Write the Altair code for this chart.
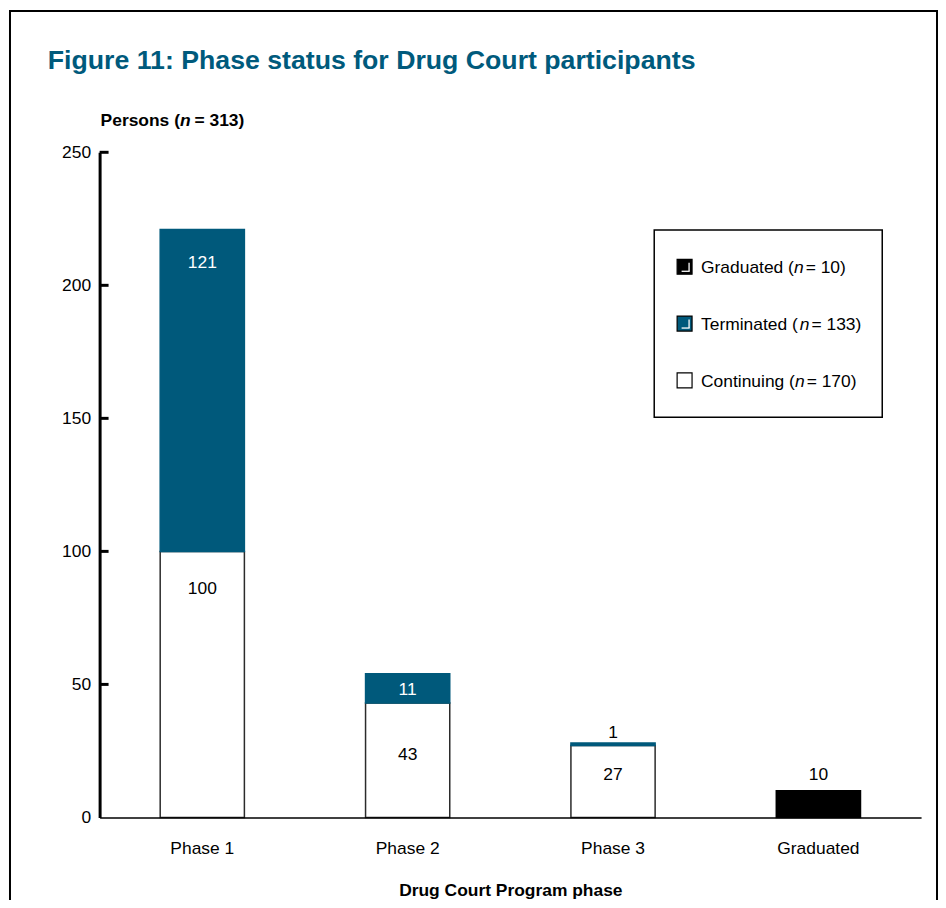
import altair as alt
import pandas as pd

# ---------------- data ----------------
PHASES = ["Phase 1", "Phase 2", "Phase 3", "Graduated"]
CONTINUING = [100, 43, 27, 0]
TERMINATED = [121, 11, 1, 0]
GRADUATED = [0, 0, 0, 10]
STATUSES = ["Continuing", "Terminated", "Graduated"]
LEGEND_ORDER = ["Graduated", "Terminated", "Continuing"]
Y_TICKS = [0, 50, 100, 150, 200, 250]
TOTAL = 313

TITLE = "Figure 11: Phase status for Drug Court participants"
X_TITLE = "Drug Court Program phase"

# ---------------- styles ----------------
TEAL = "#00597b"
FILLS = ["#ffffff", TEAL, "#000000"]
STROKES = ["#2b2b2b", TEAL, "#000000"]
FN = "Liberation Sans, Arial, sans-serif"
FW = "Liberation Sans, Arial, sans-serif"
FS = 17.5
W, H = 825, 668

# approximate Arial advance widths (1/1000 em)
AR = {' ': 278, '(': 333, ')': 333, '=': 584, 'C': 722, 'G': 778, 'T': 611, 'P': 667,
      'a': 556, 'd': 556, 'e': 556, 'g': 556, 'i': 222, 'm': 833, 'n': 556, 'r': 333,
      't': 278, 'u': 556, 'o': 556, 's': 500, 'h': 556}
AB = {' ': 278, '(': 333, ')': 333, '=': 584, 'P': 667, 'e': 556, 'r': 389, 's': 556,
      'o': 611, 'n': 611}


def tw(s, size, bold=False):
    m = AB if bold else AR
    return sum(m.get(c, 556) for c in s) / 1000 * size


series = {"Continuing": CONTINUING, "Terminated": TERMINATED, "Graduated": GRADUATED}
rows = []
for i, p in enumerate(PHASES):
    base = 0
    for s in STATUSES:
        v = series[s][i]
        if v > 0:
            rows.append(dict(phase=p, status=s, count=v, y0=base, y1=base + v))
            base += v
df = pd.DataFrame(rows)
totals = {s: sum(series[s]) for s in STATUSES}

one = pd.DataFrame({"a": [0]})
x_scale = alt.Scale(domain=PHASES, paddingInner=0.59, paddingOuter=0.295)
y_scale = alt.Scale(domain=[0, 250], nice=False)

layers = []

# outer frame (bottom edge lies beyond the page)
layers.append(alt.Chart(one).mark_rect(fill="white", fillOpacity=0, stroke="black", strokeWidth=2).encode(
    x=alt.value(-90), x2=alt.value(841), y=alt.value(-142), y2=alt.value(H + 120)))

# bars
layers.append(alt.Chart(df).mark_bar(strokeWidth=1.5).encode(
    x=alt.X("phase:N", scale=x_scale, sort=PHASES,
            axis=alt.Axis(title=X_TITLE, titleFont=FN, titleFontSize=FS, titleFontWeight="bold",
                          titleColor="black", titlePadding=25, labelFont=FN, labelFontSize=FS,
                          labelColor="black", labelAngle=0, labelPadding=22, ticks=False,
                          domainColor="black", domainWidth=1.5, zindex=1)),
    y=alt.Y("y0:Q", scale=y_scale,
            axis=alt.Axis(title=None, values=Y_TICKS, ticks=False, grid=False,
                          domainColor="black", domainWidth=3, labelFont=FN, labelFontSize=FS,
                          labelColor="black", labelPadding=9, zindex=1)),
    y2="y1:Q",
    fill=alt.Fill("status:N", scale=alt.Scale(domain=STATUSES, range=FILLS), legend=None),
    stroke=alt.Stroke("status:N", scale=alt.Scale(domain=STATUSES, range=STROKES), legend=None),
))

# inward y ticks
layers.append(alt.Chart(pd.DataFrame({"v": Y_TICKS[1:]})).mark_rule(strokeWidth=3, color="black").encode(
    y=alt.Y("v:Q", scale=y_scale, title=None), x=alt.value(0), x2=alt.value(9)))

# bar value labels (pixel offsets from segment tops)
LABEL_DY = {("Phase 1", "Terminated"): (34, "white"), ("Phase 1", "Continuing"): (38, "black"),
            ("Phase 2", "Terminated"): (16, "white"), ("Phase 2", "Continuing"): (52, "black"),
            ("Phase 3", "Terminated"): (-10, "black"), ("Phase 3", "Continuing"): (30, "black"),
            ("Graduated", "Graduated"): (-16, "black")}
for (p, s), (dy, col) in LABEL_DY.items():
    layers.append(alt.Chart(df).transform_filter(
        (alt.datum.phase == p) & (alt.datum.status == s)
    ).mark_text(dy=dy, color=col, font=FN, fontSize=FS, baseline="middle").encode(
        x=alt.X("phase:N", scale=x_scale, sort=PHASES),
        y=alt.Y("y1:Q", scale=y_scale, title=None),
        text="count:Q"))

# figure title
layers.append(alt.Chart(one).mark_text(text=TITLE, font=FW, fontSize=26.8, fontWeight="bold",
                                       color="#005a7c", align="left", baseline="alphabetic").encode(
    x=alt.value(-52), y=alt.value(-84)))

# y-axis caption "Persons (n = 313)"
yl_pre, yl_suf = "Persons (", f"= {TOTAL})"
xa = 1
xb = xa + tw(yl_pre, FS, True)
xc = xb + tw("n", FS, True) + tw(" ", FS, True) - 1
for txt, xx, style in [(yl_pre, xa, "normal"), ("n", xb, "italic"), (yl_suf, xc, "normal")]:
    layers.append(alt.Chart(one).mark_text(text=txt, font=FN, fontSize=FS, fontWeight="bold",
                                           fontStyle=style, color="black", align="left",
                                           baseline="alphabetic").encode(
        x=alt.value(xx), y=alt.value(-26)))

# legend box
layers.append(alt.Chart(one).mark_rect(fill="white", stroke="black", strokeWidth=1.5).encode(
    x=alt.value(557), x2=alt.value(786), y=alt.value(78), y2=alt.value(266)))
for k, s in enumerate(LEGEND_ORDER):
    cy = 115 + k * 57
    fill = FILLS[STATUSES.index(s)]
    layers.append(alt.Chart(one).mark_rect(fill=fill, stroke="black", strokeWidth=1.2).encode(
        x=alt.value(580), x2=alt.value(595), y=alt.value(cy - 7.5), y2=alt.value(cy + 7.5)))
    if s != "Continuing":
        layers.append(alt.Chart(one).mark_rule(color="white", strokeWidth=1.3).encode(
            x=alt.value(592), y=alt.value(cy - 4), y2=alt.value(cy + 4.5)))
        layers.append(alt.Chart(one).mark_rule(color="white", strokeWidth=1.3).encode(
            x=alt.value(584.5), x2=alt.value(592.6), y=alt.value(cy + 4.5)))
    pre, suf = f"{s} (", f"= {totals[s]})"
    x0 = 604
    xn = x0 + tw(pre, FS)
    xs = xn + tw("n", FS) + 2
    for txt, xx, style in [(pre, x0, "normal"), ("n", xn, "italic"), (suf, xs, "normal")]:
        layers.append(alt.Chart(one).mark_text(text=txt, font=FN, fontSize=FS, fontStyle=style,
                                               color="black", align="left",
                                               baseline="alphabetic").encode(
            x=alt.value(xx), y=alt.value(cy + 6.5)))

chart = alt.layer(*layers).properties(
    width=W, height=H,
    autosize=alt.AutoSizeParams(type="none"),
    padding={"left": 92, "top": 143, "right": 17, "bottom": 81},
    background="white",
).configure_view(stroke=None)

chart.save("out.html", embed_options={"renderer": "svg", "actions": False})
